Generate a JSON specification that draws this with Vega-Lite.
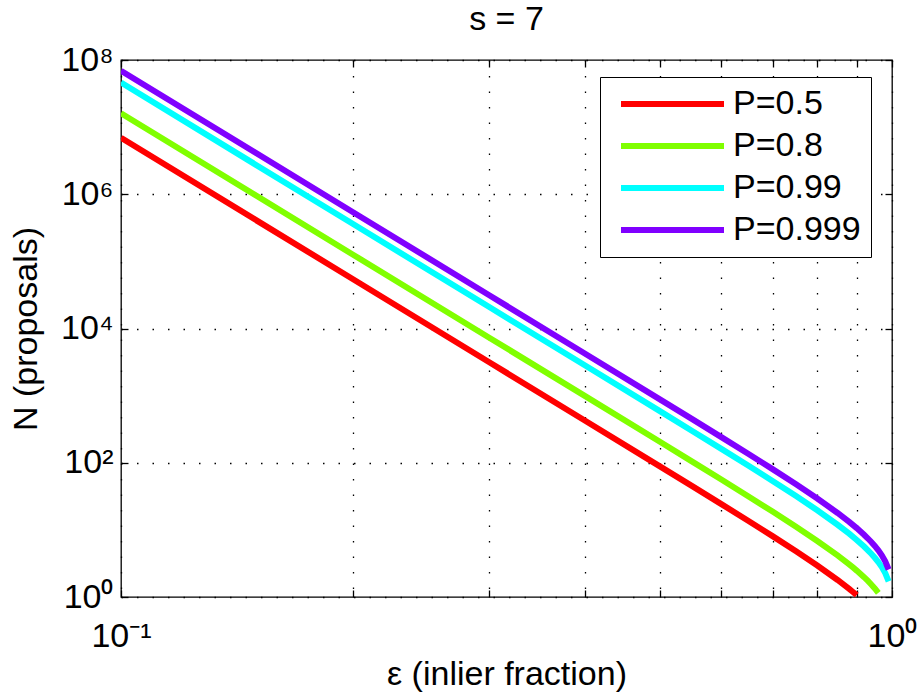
{
  "$schema": "https://vega.github.io/schema/vega-lite/v6.json",
  "width": 771,
  "height": 537,
  "autosize": {"type": "none"},
  "padding": {"left": 121, "top": 60, "right": 29, "bottom": 101},
  "background": "white",
  "config": {
    "font": "Liberation Sans",
    "view": {"stroke": "#000", "strokeWidth": 1.3}
  },
  "title": {"text": "s = 7", "fontSize": 34, "fontWeight": "normal", "color": "#000", "font": "Liberation Sans", "anchor": "middle", "baseline": "alphabetic", "offset": 0, "dy": 21},
  "data": {"values": [
    {"P": "P=0.5", "eps": 0.1, "N": 6931472},
    {"P": "P=0.5", "eps": 0.2, "N": 54151.8},
    {"P": "P=0.5", "eps": 0.3, "N": 3169.05},
    {"P": "P=0.5", "eps": 0.4, "N": 422.72},
    {"P": "P=0.5", "eps": 0.5, "N": 88.377},
    {"P": "P=0.5", "eps": 0.55, "N": 45.18},
    {"P": "P=0.5", "eps": 0.6, "N": 24.413},
    {"P": "P=0.5", "eps": 0.65, "N": 13.79},
    {"P": "P=0.5", "eps": 0.7, "N": 8.0651},
    {"P": "P=0.5", "eps": 0.75, "N": 4.8379},
    {"P": "P=0.5", "eps": 0.8, "N": 2.945},
    {"P": "P=0.5", "eps": 0.85, "N": 1.7934},
    {"P": "P=0.5", "eps": 0.88, "N": 1.3193},
    {"P": "P=0.5", "eps": 0.89, "N": 1.187},
    {"P": "P=0.5", "eps": 0.9, "N": 1.0653},
    {"P": "P=0.8", "eps": 0.1, "N": 16094379},
    {"P": "P=0.8", "eps": 0.2, "N": 125736},
    {"P": "P=0.8", "eps": 0.3, "N": 7358.3},
    {"P": "P=0.8", "eps": 0.4, "N": 981.52},
    {"P": "P=0.8", "eps": 0.5, "N": 205.2},
    {"P": "P=0.8", "eps": 0.55, "N": 104.91},
    {"P": "P=0.8", "eps": 0.6, "N": 56.685},
    {"P": "P=0.8", "eps": 0.65, "N": 32.019},
    {"P": "P=0.8", "eps": 0.7, "N": 18.727},
    {"P": "P=0.8", "eps": 0.75, "N": 11.233},
    {"P": "P=0.8", "eps": 0.8, "N": 6.8381},
    {"P": "P=0.8", "eps": 0.85, "N": 4.164},
    {"P": "P=0.8", "eps": 0.88, "N": 3.0633},
    {"P": "P=0.8", "eps": 0.89, "N": 2.7561},
    {"P": "P=0.8", "eps": 0.9, "N": 2.4736},
    {"P": "P=0.8", "eps": 0.92, "N": 1.9721},
    {"P": "P=0.8", "eps": 0.93, "N": 1.7483},
    {"P": "P=0.8", "eps": 0.94, "N": 1.5394},
    {"P": "P=0.8", "eps": 0.95, "N": 1.3429},
    {"P": "P=0.8", "eps": 0.96, "N": 1.1561},
    {"P": "P=0.99", "eps": 0.1, "N": 46051702},
    {"P": "P=0.99", "eps": 0.2, "N": 359779},
    {"P": "P=0.99", "eps": 0.3, "N": 21055},
    {"P": "P=0.99", "eps": 0.4, "N": 2808.5},
    {"P": "P=0.99", "eps": 0.5, "N": 587.16},
    {"P": "P=0.99", "eps": 0.55, "N": 300.18},
    {"P": "P=0.99", "eps": 0.6, "N": 162.2},
    {"P": "P=0.99", "eps": 0.65, "N": 91.618},
    {"P": "P=0.99", "eps": 0.7, "N": 53.583},
    {"P": "P=0.99", "eps": 0.75, "N": 32.142},
    {"P": "P=0.99", "eps": 0.8, "N": 19.566},
    {"P": "P=0.99", "eps": 0.85, "N": 11.915},
    {"P": "P=0.99", "eps": 0.88, "N": 8.7652},
    {"P": "P=0.99", "eps": 0.9, "N": 7.0777},
    {"P": "P=0.99", "eps": 0.92, "N": 5.6429},
    {"P": "P=0.99", "eps": 0.93, "N": 5.0026},
    {"P": "P=0.99", "eps": 0.94, "N": 4.4048},
    {"P": "P=0.99", "eps": 0.95, "N": 3.8426},
    {"P": "P=0.99", "eps": 0.96, "N": 3.3081},
    {"P": "P=0.99", "eps": 0.97, "N": 2.7907},
    {"P": "P=0.99", "eps": 0.98, "N": 2.2731},
    {"P": "P=0.99", "eps": 0.99, "N": 1.7125},
    {"P": "P=0.999", "eps": 0.1, "N": 69077553},
    {"P": "P=0.999", "eps": 0.2, "N": 539668},
    {"P": "P=0.999", "eps": 0.3, "N": 31582},
    {"P": "P=0.999", "eps": 0.4, "N": 4212.7},
    {"P": "P=0.999", "eps": 0.5, "N": 880.74},
    {"P": "P=0.999", "eps": 0.55, "N": 450.27},
    {"P": "P=0.999", "eps": 0.6, "N": 243.29},
    {"P": "P=0.999", "eps": 0.65, "N": 137.43},
    {"P": "P=0.999", "eps": 0.7, "N": 80.375},
    {"P": "P=0.999", "eps": 0.75, "N": 48.214},
    {"P": "P=0.999", "eps": 0.8, "N": 29.35},
    {"P": "P=0.999", "eps": 0.85, "N": 17.872},
    {"P": "P=0.999", "eps": 0.88, "N": 13.148},
    {"P": "P=0.999", "eps": 0.9, "N": 10.617},
    {"P": "P=0.999", "eps": 0.92, "N": 8.4643},
    {"P": "P=0.999", "eps": 0.93, "N": 7.5039},
    {"P": "P=0.999", "eps": 0.94, "N": 6.6073},
    {"P": "P=0.999", "eps": 0.95, "N": 5.7639},
    {"P": "P=0.999", "eps": 0.96, "N": 4.9621},
    {"P": "P=0.999", "eps": 0.97, "N": 4.1861},
    {"P": "P=0.999", "eps": 0.98, "N": 3.4097},
    {"P": "P=0.999", "eps": 0.99, "N": 2.5687}
  ]},
  "layer": [
    {
      "mark": {"type": "line", "strokeWidth": 6, "clip": true},
      "encoding": {
        "x": {"field": "eps", "type": "quantitative",
          "scale": {"type": "log", "domain": [0.1, 1], "nice": false},
          "axis": {"orient": "bottom", "values": [0.1, 0.2, 0.3, 0.4, 0.5, 0.6, 0.7, 0.8, 0.9, 1],
            "labelExpr": "datum.value > 0.95 ? '10⁰' : datum.value < 0.15 ? '10⁻¹' : ''",
            "grid": true, "gridColor": "#000", "gridDash": [1.5, 14], "gridWidth": 1.3,
            "tickSize": -7, "tickColor": "#000", "tickWidth": 1.3, "domain": false,
            "labelFontSize": 34, "labelColor": "#000", "labelFont": "Liberation Sans",
            "labelBaseline": "alphabetic", "labelPadding": 56, "labelFlush": false, "labelOverlap": false,
            "title": "ε (inlier fraction)", "titleFontSize": 34, "titleFontWeight": "normal", "titleColor": "#000",
            "titleFont": "Liberation Sans", "titleBaseline": "alphabetic", "titleY": 87, "titleX": 385.5}},
        "y": {"field": "N", "type": "quantitative",
          "scale": {"type": "log", "domain": [1, 100000000], "nice": false},
          "axis": {"orient": "left", "values": [1, 100, 10000, 1000000, 100000000],
            "labelExpr": "datum.value < 10 ? '10⁰' : datum.value < 1000 ? '10²' : datum.value < 100000 ? '10⁴' : datum.value < 10000000 ? '10⁶' : '10⁸'",
            "grid": true, "gridColor": "#000", "gridDash": [1.5, 14], "gridWidth": 1.3,
            "tickSize": -7, "tickColor": "#000", "tickWidth": 1.3, "domain": false,
            "labelFontSize": 34, "labelColor": "#000", "labelFont": "Liberation Sans",
            "labelBaseline": "middle", "labelPadding": 15, "labelFlush": false, "labelOverlap": false,
            "title": "N (proposals)", "titleFontSize": 34, "titleFontWeight": "normal", "titleColor": "#000",
            "titleFont": "Liberation Sans", "titleBaseline": "middle", "titleX": -95, "titleY": 268.5}},
        "color": {"field": "P", "type": "nominal",
          "scale": {"domain": ["P=0.5", "P=0.8", "P=0.99", "P=0.999"], "range": ["#ff0000", "#80ff00", "#00ffff", "#8000ff"]},
          "legend": {"orient": "none", "legendX": 479, "legendY": 17, "title": null,
            "symbolType": "M-0.6,0H9.7", "symbolSize": 400, "symbolStrokeWidth": 6,
            "labelFontSize": 34, "labelFont": "Liberation Sans", "labelColor": "#000", "labelOffset": 89,
            "strokeColor": "#000", "fillColor": "#fff", "padding": 10, "rowPadding": 8}}
      }
    },
    {
      "mark": {"type": "line", "opacity": 0},
      "encoding": {
        "x": {"field": "eps", "type": "quantitative",
          "scale": {"type": "log", "domain": [0.1, 1], "nice": false},
          "axis": {"orient": "top", "values": [0.1, 0.2, 0.3, 0.4, 0.5, 0.6, 0.7, 0.8, 0.9, 1],
            "labels": false, "grid": false, "domain": false, "tickSize": -7, "tickColor": "#000", "tickWidth": 1.3, "title": null}},
        "y": {"field": "N", "type": "quantitative",
          "scale": {"type": "log", "domain": [1, 100000000], "nice": false},
          "axis": {"orient": "right", "values": [1, 100, 10000, 1000000, 100000000],
            "labels": false, "grid": false, "domain": false, "tickSize": -7, "tickColor": "#000", "tickWidth": 1.3, "title": null}}
      }
    }
  ],
  "resolve": {"axis": {"x": "independent", "y": "independent"}}
}
